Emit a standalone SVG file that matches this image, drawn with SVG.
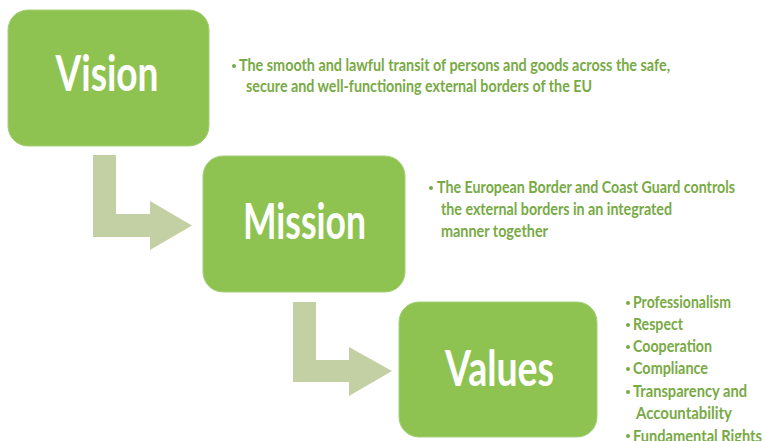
<svg xmlns="http://www.w3.org/2000/svg" width="765" height="441" viewBox="0 0 765 441">
  <style>
    .box { fill: #8fc351; stroke: #a6cf78; stroke-width: 1; }
    .title { font-family: Lato, "Open Sans", sans-serif; font-size: 50px; font-weight: 700; fill: #ffffff; text-anchor: middle; }
    .body { font-family: Lato, "Open Sans", sans-serif; font-size: 17px; font-weight: 700; fill: #78aa45; }
    .bullet { fill: #78aa45; }
    .arrow { fill: #c2d0a4; }
  </style>
  <rect width="765" height="441" fill="#ffffff"/>

  <!-- connectors: elbow block arrows between the stages -->
  <g id="connectors">
    <polygon class="arrow" points="93,155 116,155 116,214 150,214 150,201 192,225.5 150,250 150,237 93,237"/>
    <polygon class="arrow" points="293,302 316,302 316,360 349,360 349,347 392,371 349,396 349,382 293,382"/>
  </g>

  <g id="vision">
    <rect class="box" x="8" y="10" width="201" height="136" rx="20"/>
    <text class="title" x="107" y="91" textLength="103" lengthAdjust="spacingAndGlyphs">Vision</text>
    <circle class="bullet" cx="234" cy="66" r="2"/>
    <text class="body" x="239" y="71" textLength="431" lengthAdjust="spacingAndGlyphs">The smooth and lawful transit of persons and goods across the safe,</text>
    <text class="body" x="246" y="92" textLength="346" lengthAdjust="spacingAndGlyphs">secure and well-functioning external borders of the EU</text>
  </g>

  <g id="mission">
    <rect class="box" x="203" y="156" width="202" height="136" rx="20"/>
    <text class="title" x="304.5" y="239" textLength="123" lengthAdjust="spacingAndGlyphs">Mission</text>
    <circle class="bullet" cx="431" cy="188" r="2"/>
    <text class="body" x="437" y="193" textLength="298" lengthAdjust="spacingAndGlyphs">The European Border and Coast Guard controls</text>
    <text class="body" x="441" y="215" textLength="231" lengthAdjust="spacingAndGlyphs">the external borders in an integrated</text>
    <text class="body" x="441" y="237" textLength="107" lengthAdjust="spacingAndGlyphs">manner together</text>
  </g>

  <g id="values">
    <rect class="box" x="399" y="302" width="198" height="135" rx="20"/>
    <text class="title" x="499.5" y="386" textLength="109" lengthAdjust="spacingAndGlyphs">Values</text>
    <g class="bullet">
      <circle cx="628" cy="303" r="2"/>
      <circle cx="628" cy="325" r="2"/>
      <circle cx="628" cy="347" r="2"/>
      <circle cx="628" cy="369" r="2"/>
      <circle cx="628" cy="392" r="2"/>
      <circle cx="628" cy="436" r="2"/>
    </g>
    <text class="body" x="633" y="308" textLength="98" lengthAdjust="spacingAndGlyphs">Professionalism</text>
    <text class="body" x="633" y="330" textLength="50" lengthAdjust="spacingAndGlyphs">Respect</text>
    <text class="body" x="633" y="352" textLength="79" lengthAdjust="spacingAndGlyphs">Cooperation</text>
    <text class="body" x="633" y="374" textLength="75" lengthAdjust="spacingAndGlyphs">Compliance</text>
    <text class="body" x="633" y="397" textLength="114" lengthAdjust="spacingAndGlyphs">Transparency and</text>
    <text class="body" x="636" y="419" textLength="96" lengthAdjust="spacingAndGlyphs">Accountability</text>
    <text class="body" x="633" y="442" textLength="129" lengthAdjust="spacingAndGlyphs">Fundamental Rights</text>
  </g>
</svg>
